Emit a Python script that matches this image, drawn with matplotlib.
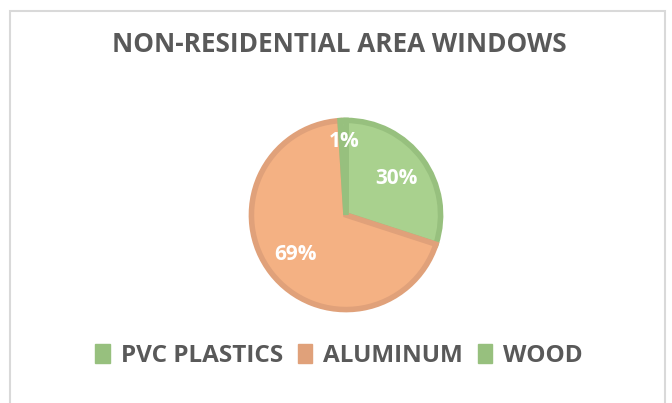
import numpy as np
import matplotlib.pyplot as plt
from matplotlib.patches import Rectangle, Patch

labels = ['PVC PLASTICS', 'ALUMINUM', 'WOOD']
values = [30, 69, 1]
fills = ['#A9D18E', '#F4B183', '#A9D18E']
edges = ['#97C07E', '#E0A17A', '#97C07E']

plt.rcParams['font.family'] = ['Open Sans', 'DejaVu Sans']

W, H = 672, 403
fig = plt.figure(figsize=(W / 100, H / 100), dpi=100)

# chart frame
fig.patches.append(Rectangle((10 / W, -0.05), 655 / W, 1.05 - 11 / H,
                             transform=fig.transFigure, fill=False,
                             edgecolor='#D9D9D9', linewidth=1.5))

fig.text(339 / W, 1 - 44 / H, 'NON-RESIDENTIAL AREA WINDOWS', ha='center',
         va='center', fontsize=18.8, fontweight='bold', color='#595959')

# pie axes: center (346,215), radius ~97px
r = 97
ax = fig.add_axes([(346 - r) / W, 1 - (215 + r) / H, 2 * r / W, 2 * r / H])
wedges, _ = ax.pie(values, colors=fills, startangle=90, counterclock=False,
                   radius=0.975,
                   wedgeprops=dict(linewidth=4, joinstyle='miter'))
for w, ec in zip(wedges, edges):
    w.set_edgecolor(ec)
ax.set_xlim(-1, 1)
ax.set_ylim(-1, 1)
ax.set_aspect('equal')

dists = [0.64, 0.66, 0.76]
for w, v, d in zip(wedges, values, dists):
    ang = np.deg2rad((w.theta1 + w.theta2) / 2)
    ax.text(d * np.cos(ang), d * np.sin(ang), f'{v}%', ha='center', va='center',
            fontsize=15, fontweight='bold', color='white')

handles = [Patch(facecolor=e, edgecolor=e) for e in edges]
fig.legend(handles, labels, loc='center', bbox_to_anchor=(339 / W, 1 - 356 / H),
           ncol=3, frameon=False, handlelength=0.6, handleheight=0.85,
           handletextpad=0.45, columnspacing=0.6, labelcolor='#595959',
           prop=dict(weight='bold', size=17.5))

fig.savefig('out.png', dpi=100)
